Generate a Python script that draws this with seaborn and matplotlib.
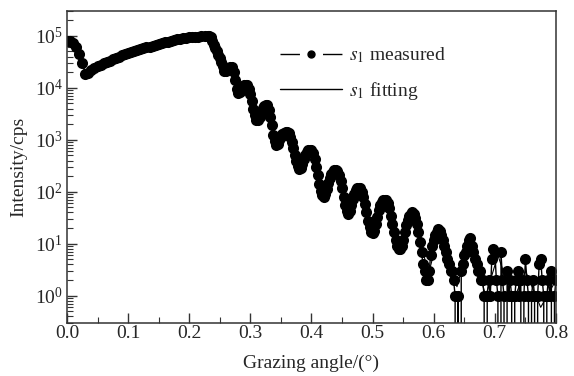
import numpy as np
import pandas as pd
import matplotlib as mpl
import matplotlib.pyplot as plt
from matplotlib.lines import Line2D
import seaborn as sns

# measured reflectivity
# below the critical angle, every 0.005 deg
angle_low = np.round(np.arange(47) * 0.005, 4)
measured_low = [
    79000, 78000, 72000, 60000, 45000, 30000, 18500, 19500, 22000, 24000,
    26000, 27500, 29500, 31500, 33500, 35500, 38000, 40000, 42000, 44000,
    46000, 48500, 50500, 53000, 55000, 57500, 60000, 62000, 64500, 67000,
    70000, 72500, 75000, 77500, 80000, 82500, 85000, 87000, 89000, 91000,
    93000, 94500, 96000, 97000, 98000, 98500, 98000,
]
# fringe region, every 0.0025 deg from 0.2325 deg
angle_high = np.round(0.2325 + np.arange(228) * 0.0025, 4)
measured_high = [
    98000, 93000, 79000, 68000, 58000, 50000, 43000, 37000, 32000, 26000,
    21000, 21000, 22000, 24000, 25000, 25000, 20000, 14000, 9500, 7900,
    8300, 9300, 10500, 11200, 11500, 11200, 9500, 7600, 5500, 4000,
    3000, 2450, 2400, 2750, 3500, 4100, 4500, 4700, 4600, 3800,
    2800, 1900, 1260, 950, 810, 830, 980, 1150, 1290, 1380,
    1410, 1410, 1350, 1150, 910, 690, 520, 400, 320, 280,
    290, 340, 420, 500, 580, 630, 650, 630, 550, 430,
    300, 210, 140, 105, 87, 81, 91, 115, 148, 186,
    219, 245, 263, 263, 251, 214, 162, 117, 79, 56,
    42, 37, 42, 55, 72, 91, 107, 117, 120, 117,
    100, 79, 58, 40, 28, 21, 17, 16, 18, 24,
    33, 44, 55, 63, 69, 71, 69, 60, 48, 35,
    24, 17, 12, 9, 8, 8, 9, 12, 17, 23,
    29, 35, 38, 40, 38, 32, 24, 17, 11, 7,
    4, 3, 2, 2, 3, 6, 9, 12, 15, 17,
    19, 18, 15, 12, 9, 7, 5, 4, 3, 3,
    2, 1, 0, 1, 0, 3, 4, 6, 7, 9,
    12, 13, 9, 7, 5, 4, 3, 3, 2, 2,
    1, 0, 1, 2, 1, 5, 8, 7, 2, 1,
    0, 7, 2, 1, 0, 3, 1, 2, 1, 0,
    1, 2, 3, 1, 2, 0, 1, 5, 2, 1,
    0, 1, 2, 1, 0, 1, 4, 5, 2, 1,
    0, 1, 2, 1, 3, 0, 1, 2,
]

# simulated curve, read at the fringe extrema
fit_angle = [0.0, 0.01, 0.02, 0.031, 0.05, 0.1, 0.15, 0.2, 0.232, 0.24, 0.25,
             0.258, 0.27, 0.28, 0.296, 0.311, 0.327, 0.343, 0.362, 0.381, 0.40,
             0.419, 0.442, 0.46, 0.479, 0.50, 0.523, 0.548, 0.569, 0.591, 0.61,
             0.638, 0.659, 0.685, 0.705, 0.73, 0.75, 0.775, 0.8]
fitting = [80000, 72000, 45000, 18500, 26000, 46000, 70000, 93000, 98000, 67000,
           37000, 20500, 25000, 8000, 11500, 2400, 4700, 800, 1400, 275, 650,
           80, 260, 36, 120, 16, 70, 7.5, 40, 2.5, 19, 1.5, 12, 1.0, 6, 0.8,
           3, 0.6, 2]

df = pd.DataFrame({"angle": np.concatenate([angle_low, angle_high]),
                   "intensity": measured_low + measured_high})
df_fit = pd.DataFrame({"angle": fit_angle, "intensity": fitting})

sns.set_style("ticks")
plt.rcParams['font.family'] = ['Liberation Serif', 'DejaVu Serif']
plt.rcParams['mathtext.fontset'] = 'stix'
plt.rcParams['font.size'] = 14

fig, ax = plt.subplots(figsize=(5.74, 3.76), dpi=100)
fig.subplots_adjust(left=0.1167, right=0.9686, bottom=0.141, top=0.9707)

sns.lineplot(data=df_fit, x="angle", y="intensity", color="k", lw=0.8,
             estimator=None, sort=False, ax=ax)
sns.lineplot(data=df, x="angle", y="intensity", color="k", lw=1.0,
             marker="o", markersize=8, markeredgewidth=0,
             estimator=None, sort=False, ax=ax)

ax.set_yscale("log")
ax.set_xlim(0, 0.8)
ax.set_ylim(0.3, 3e5)
ax.xaxis.set_major_locator(mpl.ticker.MultipleLocator(0.1))
ax.xaxis.set_minor_locator(mpl.ticker.MultipleLocator(0.05))
ax.xaxis.set_major_formatter(mpl.ticker.FormatStrFormatter("%.1f"))
ax.tick_params(which="both", direction="in", color="#333333")
ax.tick_params(which="major", length=7, width=1)
ax.tick_params(which="minor", length=4, width=0.8)
ax.tick_params(axis="x", pad=1.5)
ax.tick_params(axis="y", pad=3)
for s in ax.spines.values():
    s.set_linewidth(1.1)
    s.set_color("#333333")

ax.set_xlabel("Grazing angle/(°)", labelpad=9)
ax.set_ylabel("Intensity/cps", labelpad=5)

handles = [
    Line2D([], [], color="k", lw=1, marker="o", markersize=5, dashes=(14, 16.6)),
    Line2D([], [], color="k", lw=1),
]
ax.legend(handles, [r"$s_1$ measured", r"$s_1$ fitting"], frameon=False,
          loc="upper left", bbox_to_anchor=(0.4356, 0.89), handlelength=3.2,
          handletextpad=0.35, labelspacing=0.75, borderpad=0, borderaxespad=0)

plt.savefig("out.png", dpi=100)
